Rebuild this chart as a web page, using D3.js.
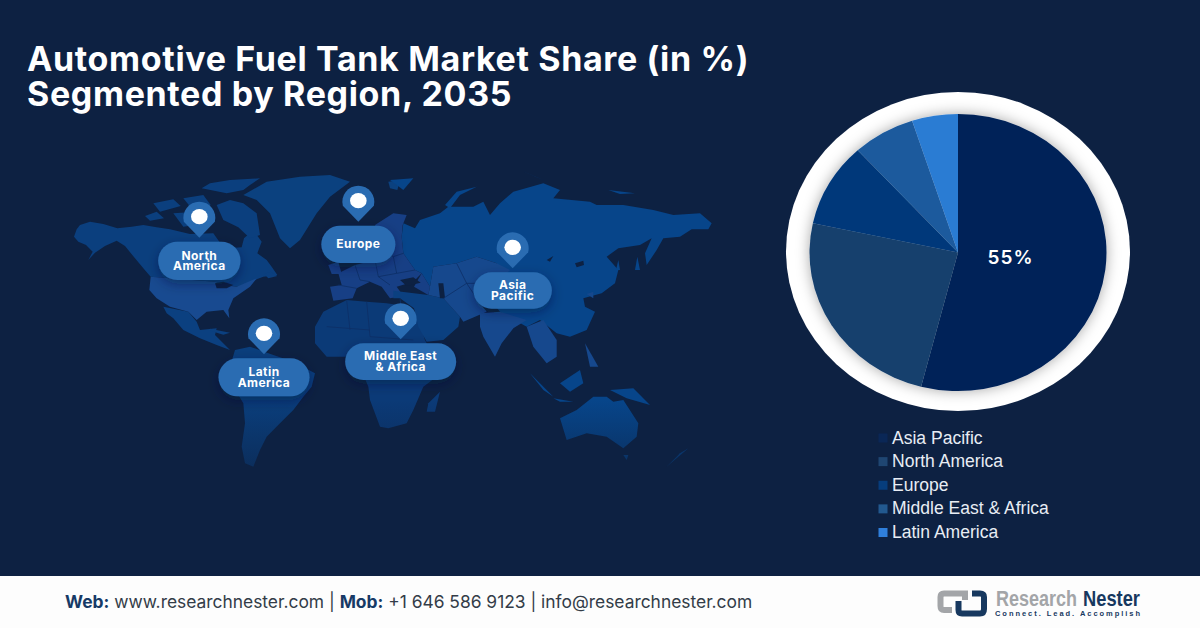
<!DOCTYPE html>
<html>
<head>
<meta charset="utf-8">
<script src="https://cdn.jsdelivr.net/npm/d3@7"></script>
<style>
  html, body { margin: 0; padding: 0; background: #0d2142; }
  svg { display: block; }
</style>
</head>
<body>
<svg id="chart" width="1200" height="628"></svg>
<script>
// chart values
var regions = ["Asia Pacific", "North America", "Europe", "Middle East & Africa", "Latin America"];
var shares = [54, 24.4, 9.8, 6.8, 5]; // slice sizes
var shareLabel = "55%";
var sliceColors = ["#032358", "#153f6d", "#02397a", "#1c5a9d", "#2b7cd3"];
var legendColors = ["#0a2756", "#1f4672", "#063d7d", "#22598f", "#2f7fdb"];
var titleLines = ["Automotive Fuel Tank Market Share (in %)", "Segmented by Region, 2035"];

// map callouts, in map grid units
var calloutNames = [["North", "America"], ["Europe"], ["Latin", "America"], ["Middle East", "& Africa"], ["Asia", "Pacific"]];
var calloutGrid = [[418, 140], [895, 92], [612, 490], [1022, 445], [1358, 232]];
var pillWidths = [247, 222, 273, 333, 235];
var pillHeights = [115, 112, 114, 110, 109];

// land outlines traced on a map grid, 3 units = 1 px
var canada = [[[42,200],[50,178],[60,165],[90,155],[130,162],[172,175],[215,170],[250,165],[290,172],[330,178],[390,192],[460,190],[478,215],[505,235],[545,232],[552,205],[580,180],[605,215],[592,250],[620,270],[635,290],[652,315],[610,320],[590,328],[570,342],[530,350],[490,345],[465,335],[272,320],[250,295],[225,265],[195,228],[170,212],[135,228],[105,248],[85,270],[98,245],[78,225],[55,215]],
  [[425,55],[450,40],[510,30],[600,25],[570,45],[550,60],[500,70]], [[280,100],[340,88],[362,108],[300,125]], [[255,138],[290,125],[312,145],[270,152]],
  [[470,105],[510,90],[550,100],[590,130],[600,195],[570,205],[535,172],[490,150]], [[370,85],[430,75],[452,105],[392,112]], [[340,130],[410,125],[440,160],[370,170]],
  [[612,312],[632,305],[652,318],[625,325]]];
var usa = [[[272,320],[465,335],[490,345],[530,350],[590,325],[570,350],[520,385],[505,420],[508,445],[490,420],[440,425],[410,450],[385,425],[330,410],[290,385],[268,360]]];
var centralAmerica = [[[310,410],[385,425],[410,455],[420,480],[470,475],[465,495],[510,540],[470,525],[420,505],[370,480],[340,445],[320,430]],
  [[450,476],[510,488],[490,494],[455,484]]];
var greenland = [[[550,75],[620,35],[720,20],[810,15],[870,35],[810,80],[770,130],[720,210],[690,235],[660,205],[630,130],[590,90]], [[985,35],[1020,30],[1012,60],[990,55]]];
var southAmerica = [[[525,540],[570,530],[640,555],[700,575],[765,610],[755,650],[730,680],[700,720],[660,760],[620,800],[600,840],[580,890],[555,880],[545,830],[555,760],[550,700],[520,650],[510,590]]];
var africa = [[[765,470],[790,425],[860,390],[920,395],[980,400],[1050,410],[1072,440],[1095,510],[1120,560],[1180,550],[1130,620],[1090,650],[1060,720],[1040,760],[985,775],[960,770],[930,690],[925,650],[900,590],[860,560],[800,560],[765,520]],
  [[1105,700],[1140,665],[1125,725],[1100,725]]];
var middleEast = [[[1000,362],[1105,375],[1150,385],[1200,440],[1195,470],[1150,510],[1100,515],[1075,470],[1062,415],[1020,385],[1000,385]]];
var europe = [[[820,392],[810,350],[845,345],[835,310],[885,285],[945,270],[960,230],[945,165],[1000,130],[1040,135],[1028,165],[1025,200],[1030,250],[1065,300],[1085,310],[1060,335],[1010,350],[1030,378],[990,385],[965,350],[930,335],[890,355],[878,385]],
  [[805,285],[835,275],[845,312],[815,312]], [[1085,310],[1110,350],[1105,375],[1062,350]]];
var russiaChina = [[[1025,200],[1030,160],[1065,175],[1080,150],[1140,130],[1165,110],[1240,110],[1270,95],[1290,135],[1320,100],[1360,65],[1450,40],[1500,60],[1480,85],[1590,95],[1610,105],[1690,105],[1780,120],[1840,135],[1920,130],[1955,160],[1945,178],[1895,178],[1860,200],[1810,205],[1790,240],[1760,285],[1755,250],[1775,205],[1740,225],[1675,235],[1640,260],[1675,300],[1665,340],[1625,370],[1570,385],[1575,410],[1605,425],[1580,480],[1530,500],[1490,490],[1440,450],[1400,470],[1320,425],[1300,400],[1345,330],[1310,280],[1250,260],[1190,280],[1120,290],[1110,350],[1085,310],[1065,300],[1030,250]],
  [[1155,105],[1190,65],[1250,50],[1200,75],[1170,115]], [[990,30],[1060,25],[1030,60]], [[1380,0],[1450,30],[1430,22]], [[1645,60],[1725,70],[1680,72]],
  [[1725,300],[1732,260],[1740,300]], [[1668,300],[1675,270],[1680,300]]];
var centralAsia = [[[1120,290],[1190,280],[1250,260],[1310,280],[1350,300],[1310,340],[1260,400],[1280,425],[1210,455],[1200,440],[1150,385],[1105,375],[1110,350]]];
var southAsia = [[[1260,430],[1320,425],[1400,450],[1360,475],[1325,520],[1305,560],[1270,500],[1260,470]],
  [[1400,470],[1450,450],[1490,510],[1490,560],[1460,580],[1420,530]],
  [[1575,520],[1615,590],[1590,590]], [[1580,372],[1600,365],[1600,385]]];
var oceania = [[[1500,745],[1550,720],[1600,680],[1640,680],[1660,695],[1690,690],[1735,760],[1730,800],[1690,835],[1640,800],[1580,790],[1520,810]],
  [[1410,610],[1480,680],[1450,660]], [[1500,640],[1560,600],[1570,640],[1530,665]], [[1480,685],[1540,695],[1500,695]],
  [[1650,660],[1720,655],[1770,705],[1700,685]], [[1690,855],[1705,855],[1700,870]], [[1860,850],[1885,835],[1820,890],[1840,870]]];
var waters = [[[465,340],[490,335],[520,345],[500,355],[470,355]], [[1135,340],[1150,340],[1155,385],[1140,385]], [[1020,330],[1060,322],[1082,338],[1040,348]], [[1545,280],[1570,272],[1572,285],[1550,292]], [[1460,270],[1480,258],[1470,275]]];
var borders = [[[885,285],[900,330],[930,335]], [[945,270],[955,320],[990,345]], [[960,230],[1000,260],[1030,250]], [[1000,260],[1010,310],[1065,300]], [[955,320],[1010,310]], [[835,345],[890,355]], [[1190,280],[1220,340],[1260,400]], [[1150,385],[1220,340],[1310,340]], [[860,390],[870,480]], [[920,395],[930,500],[1060,510]], [[1020,385],[1030,470]], [[800,470],[930,480]]];

var landLayers = [canada, greenland, centralAmerica, southAmerica, africa, russiaChina, oceania, usa, europe, middleEast, centralAsia, southAsia];
var landColors = ["#0b3f7e", "#0b417f", "#0b4080", "#0a3e7c", "#0b3a77", "#07458a", "#07458a", "#184a90", "#173f85", "#0b4080", "#16488d", "#16488d"];

var svg = d3.select("#chart");
var defs = svg.append("defs");

var glow = defs.append("filter").attr("id", "pieShadow").attr("x", "-20%").attr("y", "-20%").attr("width", "140%").attr("height", "140%");
glow.append("feDropShadow").attr("dx", 0).attr("dy", 0).attr("stdDeviation", 7).attr("flood-color", "#000").attr("flood-opacity", 0.35);
var pillShadow = defs.append("filter").attr("id", "pillShadow").attr("x", "-30%").attr("y", "-30%").attr("width", "160%").attr("height", "170%");
pillShadow.append("feDropShadow").attr("dx", 0).attr("dy", 4).attr("stdDeviation", 6).attr("flood-color", "#071a38").attr("flood-opacity", 0.45);
var fade = defs.append("linearGradient").attr("id", "mapFade").attr("x1", 0).attr("y1", 0).attr("x2", 0).attr("y2", 1);
fade.append("stop").attr("offset", 0).attr("stop-color", "#0d2142").attr("stop-opacity", 0);
fade.append("stop").attr("offset", 1).attr("stop-color", "#0d2142").attr("stop-opacity", 0.65);

svg.append("rect").attr("width", 1200).attr("height", 628).attr("fill", "#0d2142");

// title
svg.selectAll(".title").data(titleLines).enter().append("text")
  .attr("class", "title")
  .attr("x", 27)
  .attr("y", function(d, i) { return 71 + i * 35; })
  .attr("font-family", "Inter")
  .attr("font-weight", 700)
  .attr("font-size", 34)
  .attr("letter-spacing", 0.65)
  .attr("fill", "#fff")
  .text(function(d) { return d; });

// world map
var mapX = d3.scaleLinear().domain([0, 2000]).range([60, 60 + 2000 / 3]);
var mapY = d3.scaleLinear().domain([0, 930]).range([170, 480]);
var landLine = d3.line().x(function(d) { return mapX(d[0]); }).y(function(d) { return mapY(d[1]); }).curve(d3.curveLinearClosed);
var borderLine = d3.line().x(function(d) { return mapX(d[0]); }).y(function(d) { return mapY(d[1]); });
var map = svg.append("g");
landLayers.forEach(function(layer, i) {
  map.selectAll(".land" + i).data(layer).enter().append("path")
    .attr("d", landLine)
    .attr("fill", landColors[i]);
});
map.selectAll(".water").data(waters).enter().append("path").attr("d", landLine).attr("fill", "#0d2142");
map.selectAll(".border").data(borders).enter().append("path")
  .attr("d", borderLine)
  .attr("fill", "none")
  .attr("stroke", "#0c2f66")
  .attr("stroke-width", 0.8);
svg.append("rect").attr("x", 60).attr("y", 400).attr("width", 670).attr("height", 80).attr("fill", "url(#mapFade)");

// callouts
var callouts = svg.selectAll(".callout").data(calloutNames).enter().append("g").attr("class", "callout");
callouts.each(function(names, i) {
  var g = d3.select(this);
  var cx = mapX(calloutGrid[i][0]), cy = mapY(calloutGrid[i][1]);
  var w = pillWidths[i] / 3, h = pillHeights[i] / 3;
  var pillTop = cy + 25;
  g.append("path")
    .attr("d", "M" + (cx - 15.5) + "," + (cy + 5) + " A16,16 0 1 1 " + (cx + 15.5) + "," + (cy + 5) + " L" + cx + "," + (cy + 21) + " Z")
    .attr("fill", "#2a6cb2");
  g.append("ellipse").attr("cx", cx).attr("cy", cy).attr("rx", 8.3).attr("ry", 7.6).attr("fill", "#fff");
  g.append("rect")
    .attr("x", cx - w / 2).attr("y", pillTop)
    .attr("width", w).attr("height", h)
    .attr("rx", h / 2)
    .attr("fill", "#2a6cb2")
    .attr("filter", "url(#pillShadow)");
  var first = pillTop + h / 2 + 4 - (names.length - 1) * 5.25;
  names.forEach(function(n, j) {
    g.append("text")
      .attr("x", cx).attr("y", first + j * 10.5)
      .attr("text-anchor", "middle")
      .attr("font-family", "Inter").attr("font-weight", 700).attr("font-size", 12)
      .attr("letter-spacing", 0.45)
      .attr("fill", "#fff")
      .text(n);
  });
});

// pie
var pieCx = 958, pieCy = 252.5, pieRx = 148.5, pieRy = 138.5;
svg.append("ellipse").attr("cx", pieCx).attr("cy", pieCy - 1).attr("rx", 172).attr("ry", 159.5).attr("fill", "#fff");
var pie = d3.pie().sort(null).value(function(d) { return d; });
var arc = d3.arc().innerRadius(0).outerRadius(pieRx);
var pieGroup = svg.append("g").attr("filter", "url(#pieShadow)")
  .append("g").attr("transform", "translate(" + pieCx + "," + pieCy + ") scale(1," + (pieRy / pieRx) + ")");
pieGroup.selectAll("path").data(pie(shares)).enter().append("path")
  .attr("d", arc)
  .attr("fill", function(d, i) { return sliceColors[i]; });
svg.append("text")
  .attr("x", 1010.5).attr("y", 263.5)
  .attr("text-anchor", "middle")
  .attr("font-family", "Inter").attr("font-weight", 600).attr("font-size", 19)
  .attr("letter-spacing", 1)
  .attr("fill", "#fff")
  .text(shareLabel);

// legend
var legendY = d3.scalePoint().domain(regions).range([437.5, 532]);
var legend = svg.selectAll(".legend").data(regions).enter().append("g").attr("class", "legend");
legend.append("rect")
  .attr("x", 878.5)
  .attr("y", function(d) { return legendY(d) - 4; })
  .attr("width", 9).attr("height", 9)
  .attr("fill", function(d, i) { return legendColors[i]; });
legend.append("text")
  .attr("x", 892)
  .attr("y", function(d) { return legendY(d) + 6; })
  .attr("font-family", "Liberation Sans").attr("font-size", 17.55)
  .attr("fill", "#e8edf4")
  .text(function(d) { return d; });

// footer
svg.append("rect").attr("y", 576).attr("width", 1200).attr("height", 52).attr("fill", "#fdfdfd");
var footer = svg.append("text").attr("x", 65).attr("y", 608).attr("font-family", "Inter").attr("font-size", 17.4).attr("fill", "#333c48");
footer.append("tspan").attr("font-weight", 700).attr("fill", "#173a66").text("Web:");
footer.append("tspan").text(" www.researchnester.com | ");
footer.append("tspan").attr("font-weight", 700).attr("fill", "#173a66").text("Mob:");
footer.append("tspan").text(" +1 646 586 9123 | info@researchnester.com");

// logo
var logo = svg.append("g").attr("fill", "none").attr("stroke-width", 6);
logo.append("path").attr("d", "M965,600 V593.5 H944 Q940.5,593.5 940.5,597 V606 Q940.5,610 944,610 H952").attr("stroke", "#a3a5a8");
logo.append("path").attr("d", "M972,593.5 H980 Q984,593.5 984,597 V609 Q984,613.5 980,613.5 H962 Q958.5,613.5 958.5,610 V601").attr("stroke", "#17385f");
svg.append("text").attr("x", 996).attr("y", 606).attr("textLength", 81).attr("lengthAdjust", "spacingAndGlyphs")
  .attr("font-family", "Liberation Sans").attr("font-weight", 700).attr("font-size", 22).attr("fill", "#a3a5a8").text("Research");
svg.append("text").attr("x", 1083).attr("y", 606).attr("textLength", 57).attr("lengthAdjust", "spacingAndGlyphs")
  .attr("font-family", "Liberation Sans").attr("font-weight", 700).attr("font-size", 22).attr("fill", "#17385f").text("Nester");
svg.append("text").attr("x", 995).attr("y", 616).attr("textLength", 145).attr("lengthAdjust", "spacing")
  .attr("font-family", "Liberation Sans").attr("font-weight", 700).attr("font-size", 7.5).attr("fill", "#17385f").text("Connect. Lead. Accomplish");
</script>
</body>
</html>
